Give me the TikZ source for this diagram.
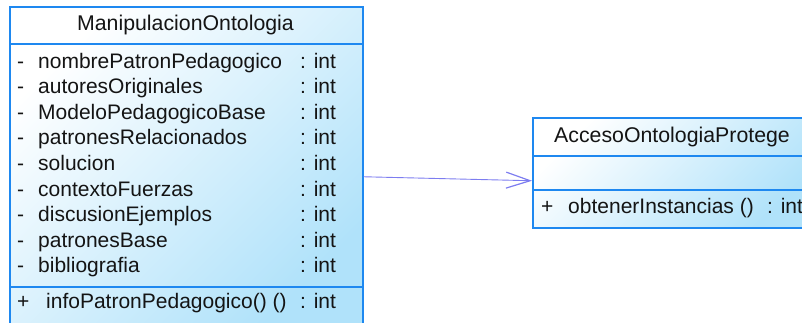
\documentclass[tikz,border=0pt]{standalone}
\usepackage{fontspec}
\setmainfont{Liberation Sans}
\usetikzlibrary{arrows.meta}
\definecolor{clsborder}{RGB}{30,136,240}
\definecolor{clsfill}{RGB}{176,226,250}
\definecolor{assoccol}{RGB}{125,125,240}
\begin{document}
\begin{tikzpicture}[x=1pt,y=-1pt,
  clsbox/.style={draw=clsborder, line width=1.5pt, rectangle, inner sep=0pt, anchor=north west,
    top color=white, bottom color=clsfill, shading angle=45},
  sepline/.style={draw=clsborder, line width=1.5pt},
  txt/.style={font=\fontsize{21}{25}\selectfont, inner sep=0pt, anchor=base west, text=black!92},
  ttl/.style={font=\fontsize{21.3}{25}\selectfont, inner sep=0pt, anchor=base, text=black!92},
  assoc/.style={draw=assoccol, line width=0.9pt, -{Straight Barb[length=24pt,width=16pt,line width=1.2pt]}}]
\useasboundingbox (0,0) rectangle (802,322);
\clip (0,0) rectangle (802,322);
% left class
\node[clsbox, minimum width=353pt, minimum height=318pt] (L) at (9,6) {};
\draw[sepline] (9,44) -- (362,44);
\draw[sepline] (9,287) -- (362,287);
\node[ttl] (Lt) at (185.5,30) {ManipulacionOntologia};
\foreach \n/\t [count=\k from 0] in {a1/nombrePatronPedagogico, a2/autoresOriginales, a3/ModeloPedagogicoBase, a4/patronesRelacionados, a5/solucion, a6/contextoFuerzas, a7/discusionEjemplos, a8/patronesBase, a9/bibliografia}{
  \node[txt] (\n v) at (17,68+25.6*\k) {-};
  \node[txt] (\n) at (38,68+25.6*\k) {\t};
  \node[txt] (\n c) at (300,68+25.6*\k) {: int};
}
\node[txt] (m1v) at (17,308) {+};
\node[txt] (m1) at (46,308) {infoPatronPedagogico() ()};
\node[txt] (m1c) at (300,308) {: int};
% right class
\node[clsbox, minimum width=280pt, minimum height=110pt] (R) at (532,117) {};
\draw[sepline] (532,156) -- (812,156);
\draw[sepline] (532,190) -- (812,190);
\node[ttl] (Rt) at (672,142) {AccesoOntologiaProtege};
\node[txt] (r1v) at (541,213) {+};
\node[txt] (r1) at (568,213) {obtenerInstancias ()};
\node[txt] (r1c) at (767,213) {: int};
% association
\draw[assoc] ([yshift=-11pt]L.east) -- ([yshift=-8pt]R.west);
\end{tikzpicture}
\end{document}
